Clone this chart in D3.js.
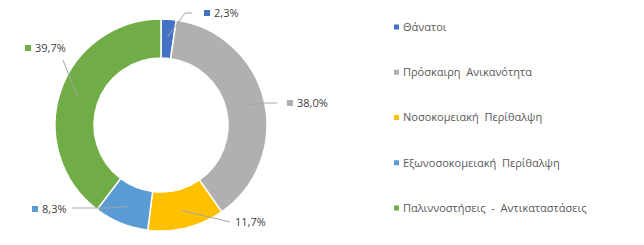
<!DOCTYPE html>
<html>
<head>
<meta charset="utf-8">
<script src="https://cdn.jsdelivr.net/npm/d3@7"></script>
<style>
  body { margin: 0; background: #fff; }
  svg text { font-family: "Open Sans", sans-serif; }
</style>
</head>
<body>
<svg id="chart" width="644" height="245"></svg>
<script>
// chart data
var categories = ["Θάνατοι", "Πρόσκαιρη  Ανικανότητα", "Νοσοκομειακή  Περίθαλψη",
                  "Εξωνοσοκομειακή  Περίθαλψη", "Παλιννοστήσεις  -  Αντικαταστάσεις"];
var values = [2.3, 38.0, 11.7, 8.3, 39.7];
var valueLabels = ["2,3%", "38,0%", "11,7%", "8,3%", "39,7%"];
var colors = ["#4472C4", "#B0B0B0", "#FFC000", "#5B9BD5", "#70AD47"];

// where each data label sits, relative to the donut centre
// [elbow x, elbow y, line end x, marker x, text y, show marker]
var labelLayout = [
    [24, -112, 31, 43, -112, true],
    [106, -22, 116, 126, -22, true],
    [69, 97, 69, 74, 97, false],
    [-52, 83, -89, -129, 84, true],
    [-98, -65, -98, -136, -77, true]
];

var cx = 161, cy = 125;
var outerR = 106, innerR = 67, lineR = 88;

var svg = d3.select("#chart");
var g = svg.append("g").attr("transform", "translate(" + cx + "," + cy + ")");

var pie = d3.pie().sort(null).value(function(d) { return d; });
var arcs = pie(values);

var arc = d3.arc().innerRadius(innerR).outerRadius(outerR);

g.selectAll("path.slice")
    .data(arcs)
    .enter().append("path")
    .attr("class", "slice")
    .attr("d", arc)
    .attr("fill", function(d, i) { return colors[i]; })
    .attr("stroke", "#fff")
    .attr("stroke-width", 1.5);

// leader lines + labels
arcs.forEach(function(d, i) {
    var mid = (d.startAngle + d.endAngle) / 2;
    var sx = lineR * Math.sin(mid), sy = -lineR * Math.cos(mid);
    var L = labelLayout[i];
    g.append("polyline")
        .attr("points", [[sx, sy], [L[0], L[1]], [L[2], L[1]]].join(" "))
        .attr("fill", "none")
        .attr("stroke", "#A6A6A6")
        .attr("stroke-width", 1);
    var tx = L[3];
    if (L[5]) {
        g.append("rect")
            .attr("x", tx).attr("y", L[4] - 3)
            .attr("width", 6).attr("height", 6)
            .attr("fill", colors[i]);
        tx += 10;
    }
    g.append("text")
        .attr("x", tx).attr("y", L[4])
        .attr("dy", "0.35em")
        .attr("font-size", 11)
        .attr("fill", "#404040")
        .text(valueLabels[i]);
});

// legend
var legendY = d3.scalePoint().domain(categories).range([27, 208]);
var legend = svg.selectAll("g.legend")
    .data(categories)
    .enter().append("g")
    .attr("class", "legend")
    .attr("transform", function(d) { return "translate(394," + legendY(d) + ")"; });

legend.append("rect")
    .attr("x", 0).attr("y", -2.5)
    .attr("width", 5).attr("height", 5)
    .attr("fill", function(d, i) { return colors[i]; });

legend.append("text")
    .attr("x", 9)
    .attr("dy", "0.35em")
    .attr("font-size", 11)
    .attr("fill", "#595959")
    .style("white-space", "pre")
    .text(function(d) { return d; });
</script>
</body>
</html>
